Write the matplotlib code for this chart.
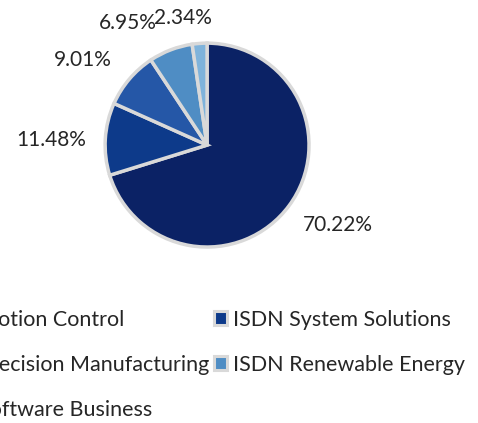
import numpy as np
import matplotlib.pyplot as plt
from matplotlib.patches import Patch

# * Segment share data
segments = ['ISDN Motion Control', 'ISDN System Solutions', 'ISDN Precision Manufacturing',
            'ISDN Renewable Energy', 'ISDN Software Business']
shares = [70.22, 11.48, 9.01, 6.95, 2.34]
colors = ['#0B2265', '#0D3A8A', '#2557A7', '#4F8DC4', '#7FB3DB']

plt.rcParams['font.family'] = ['Lato', 'DejaVu Sans']
text_color = '#262626'

fig = plt.figure(figsize=(4.78, 4.23), dpi=100)
ax = fig.add_axes([0.2197, 0.416, 0.427, 0.482])

wedges, _, pcts = ax.pie(shares, colors=colors, startangle=90, counterclock=False,
                         autopct='%.2f%%', pctdistance=1.5,
                         wedgeprops=dict(edgecolor='#D9D9D9', linewidth=2.5),
                         textprops=dict(fontsize=15, color=text_color))
ax.set_xlim(-1, 1)
ax.set_ylim(-1, 1)
ax.set_aspect('equal')

# * place labels the way the original spreads them (distance, angle shift)
label_dist = [1.50, 1.53, 1.48, 1.43, 1.27]
label_shift = [5, 1.6, 6, 12, 6.5]
for w, t, d, s in zip(wedges, pcts, label_dist, label_shift):
    ang = np.deg2rad((w.theta1 + w.theta2) / 2 + s)
    t.set_position((d * np.cos(ang), d * np.sin(ang)))

# * legend: row-major like Excel (col 1 = items 1,3,5; col 2 = items 2,4)
order = [0, 2, 4, 1, 3]
handles = [Patch(facecolor=colors[i], edgecolor='#D9D9D9', linewidth=2.2) for i in order]
labels = [segments[i] for i in order]
fig.legend(handles, labels, ncol=2, loc='upper right', bbox_to_anchor=(0.973, 0.268),
           frameon=False, fontsize=15.5, labelcolor=text_color, borderaxespad=0,
           borderpad=0, handlelength=0.6, handleheight=0.6, handletextpad=0.3,
           columnspacing=0.2, labelspacing=1.16)

fig.savefig('out.png', dpi=100)
